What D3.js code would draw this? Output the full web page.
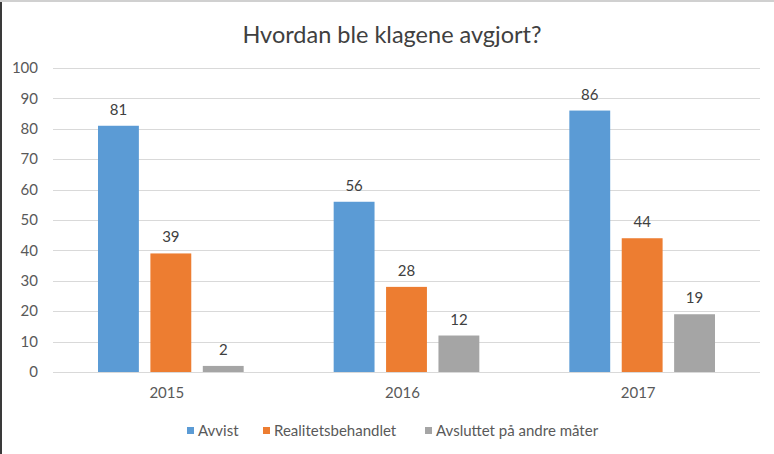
<!DOCTYPE html>
<html>
<head>
<meta charset="utf-8">
<script src="https://cdn.jsdelivr.net/npm/d3@7"></script>
<style>
  body { margin: 0; background: #fff; }
  text { font-family: Lato, "Open Sans", sans-serif; }
</style>
</head>
<body>
<div id="chart"></div>
<script>
// data
const years = ['2015', '2016', '2017'];
const seriesNames = ['Avvist', 'Realitetsbehandlet', 'Avsluttet på andre måter'];
const avvist = [81, 56, 86];
const realitet = [39, 28, 44];
const annet = [2, 12, 19];
const yTicks = [0, 10, 20, 30, 40, 50, 60, 70, 80, 90, 100];
const colors = ['#5b9bd5', '#ed7d31', '#a5a5a5'];

const values = [avvist, realitet, annet];

const width = 774, height = 454;
const margin = {top: 68, left: 53, right: 14, bottom: 82};

const svg = d3.select('#chart').append('svg')
    .attr('width', width)
    .attr('height', height);

// frame edges (cropped slide border)
svg.append('line').attr('x1', 1).attr('x2', 1).attr('y1', 0).attr('y2', height)
    .attr('stroke', '#3a3a3a').attr('stroke-width', 2);
svg.append('line').attr('x1', 0).attr('x2', width).attr('y1', 1).attr('y2', 1)
    .attr('stroke', '#d0d0d0').attr('stroke-width', 2);

const x0 = d3.scaleBand()
    .domain(years)
    .range([margin.left, width - margin.right]);

const x1 = d3.scaleBand()
    .domain(seriesNames)
    .range([45, x0.bandwidth() - 45])
    .paddingInner(0.22);

const y = d3.scaleLinear()
    .domain([0, 100])
    .range([height - margin.bottom, margin.top]);

// gridlines
svg.append('g').selectAll('line')
    .data(yTicks)
    .join('line')
    .attr('x1', margin.left)
    .attr('x2', width - margin.right)
    .attr('y1', d => Math.round(y(d)) + 0.5)
    .attr('y2', d => Math.round(y(d)) + 0.5)
    .attr('stroke', '#d9d9d9')
    .attr('stroke-width', 1);

// y labels
svg.append('g').selectAll('text')
    .data(yTicks)
    .join('text')
    .attr('x', 38)
    .attr('y', d => y(d))
    .attr('dy', '0.35em')
    .attr('text-anchor', 'end')
    .attr('font-size', 15)
    .attr('fill', '#595959')
    .text(d => d);

// bars
const groups = svg.append('g').selectAll('g')
    .data(years)
    .join('g')
    .attr('transform', d => `translate(${x0(d)},0)`);

groups.selectAll('rect')
    .data((d, i) => seriesNames.map((s, j) => ({s, j, v: values[j][i]})))
    .join('rect')
    .attr('x', d => x1(d.s))
    .attr('width', x1.bandwidth())
    .attr('y', d => y(d.v))
    .attr('height', d => y(0) - y(d.v))
    .attr('fill', d => colors[d.j]);

groups.selectAll('text.val')
    .data((d, i) => seriesNames.map((s, j) => ({s, j, v: values[j][i]})))
    .join('text')
    .attr('class', 'val')
    .attr('x', d => x1(d.s) + x1.bandwidth() / 2)
    .attr('y', d => y(d.v) - 11)
    .attr('text-anchor', 'middle')
    .attr('font-size', 15)
    .attr('fill', '#404040')
    .text(d => d.v);

// year labels
svg.append('g').selectAll('text')
    .data(years)
    .join('text')
    .attr('x', d => x0(d) + x0.bandwidth() / 2 - 4)
    .attr('y', 398)
    .attr('text-anchor', 'middle')
    .attr('font-size', 15)
    .attr('fill', '#595959')
    .text(d => d);

// title
svg.append('text')
    .attr('x', 392)
    .attr('y', 43)
    .attr('text-anchor', 'middle')
    .attr('font-size', 23.5)
    .attr('fill', '#404040')
    .text('Hvordan ble klagene avgjort?');

// legend
const legendX = [187, 263, 425];
const legend = svg.append('g').selectAll('g')
    .data(seriesNames)
    .join('g')
    .attr('transform', (d, i) => `translate(${legendX[i]},427)`);
legend.append('rect')
    .attr('width', 7).attr('height', 7)
    .attr('fill', (d, i) => colors[i]);
legend.append('text')
    .attr('x', 11)
    .attr('y', 4)
    .attr('dy', '0.35em')
    .attr('font-size', 15)
    .attr('fill', '#595959')
    .text(d => d);
</script>
</body>
</html>
